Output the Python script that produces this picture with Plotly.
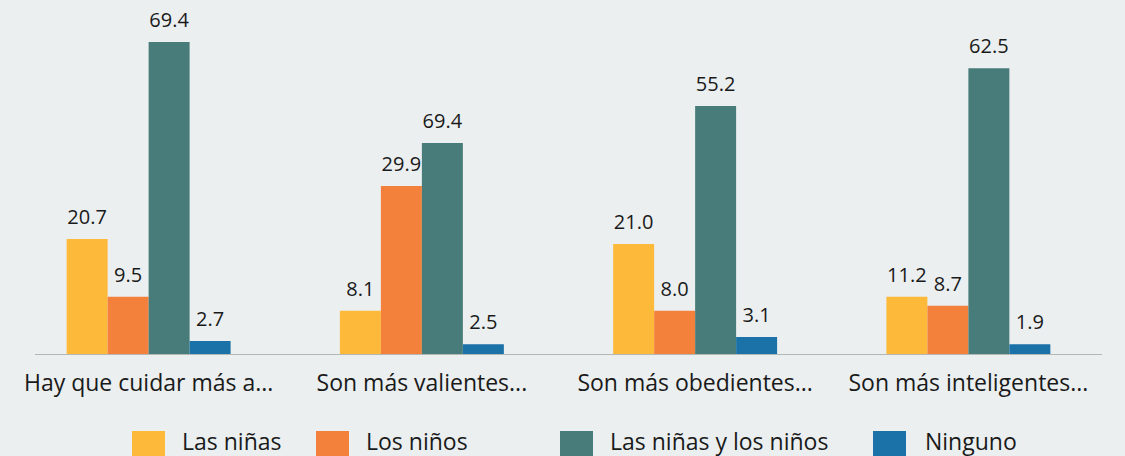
import plotly.graph_objects as go

# ---- data ----
categories = ["Hay que cuidar más a...", "Son más valientes...",
              "Son más obedientes...", "Son más inteligentes..."]
series_names = ["Las niñas", "Los niños", "Las niñas y los niños", "Ninguno"]

# printed value labels
ninas_label = [20.7, 8.1, 21.0, 11.2]
ninos_label = [9.5, 29.9, 8.0, 8.7]
ambos_label = [69.4, 69.4, 55.2, 62.5]
ninguno_label = [2.7, 2.5, 3.1, 1.9]

# bar heights as drawn in the picture (same scale as the tallest bar)
ninas_height = [25.7, 9.8, 24.6, 12.9]
ninos_height = [12.9, 37.5, 9.8, 10.9]
ambos_height = [69.4, 47.0, 55.2, 63.6]
ninguno_height = [3.1, 2.4, 4.0, 2.4]

colors = ["#FDB93A", "#F3813C", "#487C7B", "#1A72A8"]
labels = [ninas_label, ninos_label, ambos_label, ninguno_label]
heights = [ninas_height, ninos_height, ambos_height, ninguno_height]

BG = "#EBEFF0"
FONT = "Open Sans"
TXT = "#1a1a1a"
W, H = 1125, 456
ML, MR, MT, MB = 12, 20, 20, 101

fig = go.Figure()
for name, col, h in zip(series_names, colors, heights):
    fig.add_trace(go.Bar(x=categories, y=h, name=name, marker_color=col,
                         marker_line_width=0, offsetgroup=name, showlegend=False,
                         hoverinfo="skip"))
for name, h, lab in zip(series_names, heights, labels):
    fig.add_trace(go.Scatter(x=categories, y=h, mode="markers+text",
                             text=[f"{v:.1f}" for v in lab],
                             textposition="top center",
                             textfont=dict(family=FONT, size=20, color=TXT),
                             marker=dict(size=14, opacity=0),
                             offsetgroup=name, showlegend=False,
                             cliponaxis=False, hoverinfo="skip"))

pw = W - ML - MR
ph = H - MT - MB


def px_x(px):
    return (px - ML) / pw


def px_y(py):
    return (H - MB - py) / ph


shapes = [dict(type="line", xref="paper", yref="y",
               x0=px_x(35), x1=px_x(1102), y0=0, y1=0,
               line=dict(color="#B4B8B4", width=2), layer="above")]
annotations = []
leg_sq_x = [132, 316, 560, 873]
leg_tx_x = [180, 364, 608, 923]
for name, col, sx, tx in zip(series_names, colors, leg_sq_x, leg_tx_x):
    shapes.append(dict(type="rect", xref="paper", yref="paper",
                       x0=px_x(sx), x1=px_x(sx + 33),
                       y0=px_y(431), y1=px_y(464),
                       fillcolor=col, line_width=0))
    annotations.append(dict(xref="paper", yref="paper", x=px_x(tx), y=px_y(441),
                            xanchor="left", yanchor="middle", showarrow=False,
                            text=name, font=dict(family=FONT, size=23, color=TXT)))

fig.update_layout(
    width=W, height=H,
    margin=dict(l=ML, r=MR, t=MT, b=MB),
    paper_bgcolor=BG, plot_bgcolor=BG,
    barmode="group", scattermode="group", bargap=0.40, bargroupgap=0,
    showlegend=False,
    shapes=shapes, annotations=annotations,
    xaxis=dict(showgrid=False, zeroline=False, showline=False, ticks="",
               tickfont=dict(family=FONT, size=23, color=TXT),
               ticklabelstandoff=12),
    yaxis=dict(visible=False, range=[0, ph / 4.51], showgrid=False, zeroline=False),
)

fig.write_html("out.html",
               config={"displayModeBar": False},
               post_script="document.body.style.margin='0';"
                           "document.body.style.background='#EBEFF0';")
